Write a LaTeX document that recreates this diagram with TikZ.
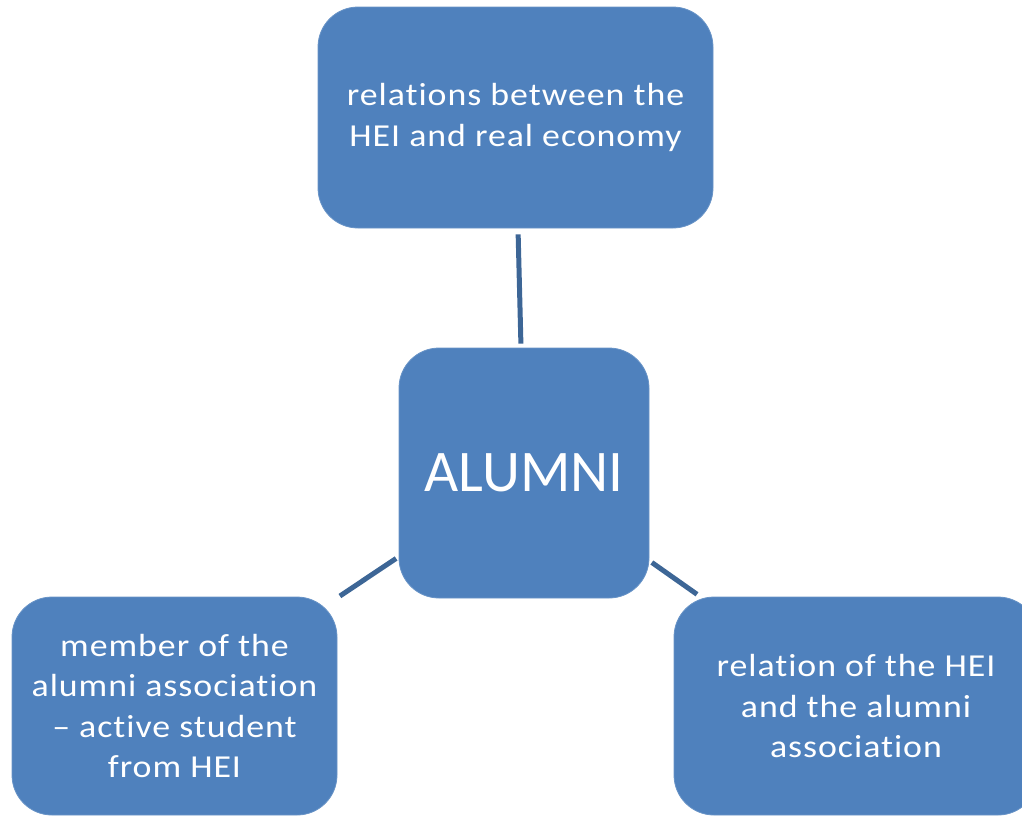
\documentclass[tikz,border=0pt]{standalone}
\usepackage{fontspec}
\setmainfont{Carlito}
\newfontfamily\spacedfont{Carlito}[FakeStretch=1.12,LetterSpace=3,Ligatures=NoCommon]
\definecolor{boxblue}{HTML}{4F81BD}
\definecolor{lineblue}{HTML}{3D6696}
\begin{document}
\begin{tikzpicture}[x=1pt,y=-1pt,
  card/.style={draw=boxblue!85!white,line width=0.8pt,fill=boxblue,rounded corners=40pt,inner sep=0pt,
    text=white,align=center,font=\spacedfont\fontsize{32}{40.5}\selectfont},
  link/.style={draw=lineblue,line width=5pt}]
\useasboundingbox (0,0) rectangle (1022,815);
\clip (0,0) rectangle (1022,815);
\node[card,minimum width=395pt,minimum height=221pt] (top) at (515.5,117.5) {relations between the\\HEI and real economy};
\node[card,minimum width=250pt,minimum height=250pt,font=\rmfamily\fontsize{59}{70}\selectfont] (c) at (524,473) {ALUMNI};
\node[card,minimum width=325pt,minimum height=218pt] (l) at (174.5,706) {member of the\\alumni association\\– active student\\from HEI};
\node[card,minimum width=364pt,minimum height=218pt] (r) at (856,706) {relation of the HEI\\and the alumni\\association};
\draw[link,shorten <=6pt,shorten >=4pt] ([xshift=2.5pt]top.south) -- ([xshift=-3pt]c.north);
\draw[link,shorten <=3pt,shorten >=3pt] (c) -- (l);
\draw[link,shorten <=3pt,shorten >=4pt] (c) -- (r);
\end{tikzpicture}
\end{document}
